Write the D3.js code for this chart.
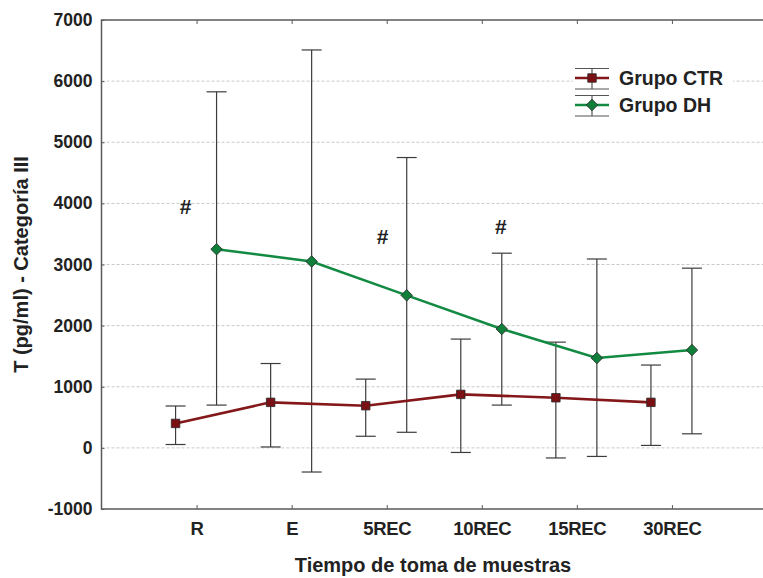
<!DOCTYPE html>
<html>
<head>
<meta charset="utf-8">
<script src="https://cdn.jsdelivr.net/npm/d3@7"></script>
<style>
  body { margin: 0; background: #fff; }
  svg { font-family: "Liberation Sans", Arial, sans-serif; font-weight: bold; }
  .grid line { stroke: #c8c8c8; stroke-dasharray: 3,2; }
  .frame { stroke: #5a5a5a; stroke-width: 1.5; fill: none; }
</style>
</head>
<body>
<div id="visualize"></div>
<script>
// Categories and tick labels
var categories = ["R", "E", "5REC", "10REC", "15REC", "30REC"];
var yTicks = [-1000, 0, 1000, 2000, 3000, 4000, 5000, 6000, 7000];

// Grupo CTR
var ctrMean = [400, 745, 690, 875, 820, 745];
var ctrHigh = [685, 1380, 1125, 1780, 1730, 1355];
var ctrLow = [55, 15, 190, -75, -165, 40];

// Grupo DH
var dhMean = [3250, 3050, 2495, 1945, 1470, 1600];
var dhHigh = [5825, 6510, 4750, 3185, 3090, 2940];
var dhLow = [700, -395, 255, 700, -140, 230];

// "#" marks: category index and value height
var hashCat = [0, 2, 3];
var hashVal = [3940, 3450, 3620];

var width = 763, height = 578;
var plotLeft = 101.5, plotTop = 20, plotBottom = 509;

var x = d3.scaleLinear().domain([0, categories.length + 1]).range([plotLeft, 767]);
var y = d3.scaleLinear().domain([-1000, 7000]).range([plotBottom, plotTop]);

var svg = d3.select("#visualize").append("svg")
    .attr("width", width)
    .attr("height", height);

// gridlines
svg.append("g")
    .attr("class", "grid")
    .selectAll("line")
    .data(yTicks.filter(function(d) { return d > -1000 && d < 7000; }))
  .enter().append("line")
    .attr("x1", plotLeft)
    .attr("x2", width)
    .attr("y1", function(d) { return y(d); })
    .attr("y2", function(d) { return y(d); });

// frame
svg.append("path")
    .attr("class", "frame")
    .attr("d", "M" + width + "," + plotTop + "H" + plotLeft + "V" + plotBottom + "H" + width);

// y axis
var yAxis = d3.axisLeft(y).tickValues(yTicks)
    .tickFormat(function(d) { return String(d); })
    .tickSize(-3).tickPadding(9);
var gy = svg.append("g")
    .attr("transform", "translate(" + plotLeft + ",0)")
    .call(yAxis);
gy.select(".domain").remove();
gy.selectAll(".tick line").attr("stroke", "#5a5a5a");
gy.selectAll("text")
    .attr("font-size", 17.5)
    .attr("font-family", "Liberation Sans, Arial, sans-serif")
    .attr("font-weight", "bold")
    .attr("fill", "#222");

// x axis (bottom + top ticks)
var catIdx = categories.map(function(d, i) { return i + 1; });
var xAxis = d3.axisBottom(x).tickValues(catIdx)
    .tickFormat(function(d) { return categories[d - 1]; })
    .tickSize(-4).tickPadding(13);
var gx = svg.append("g")
    .attr("transform", "translate(0," + plotBottom + ")")
    .call(xAxis);
gx.select(".domain").remove();
gx.selectAll(".tick line").attr("stroke", "#5a5a5a");
gx.selectAll("text")
    .attr("font-size", 18.5)
    .attr("font-family", "Liberation Sans, Arial, sans-serif")
    .attr("font-weight", "bold")
    .attr("letter-spacing", -0.3)
    .attr("fill", "#222");

var gxt = svg.append("g")
    .attr("transform", "translate(0," + plotTop + ")")
    .call(d3.axisTop(x).tickValues(catIdx).tickSize(-4).tickFormat(""));
gxt.select(".domain").remove();
gxt.selectAll(".tick line").attr("stroke", "#5a5a5a");

// axis titles
svg.append("text")
    .attr("x", 433)
    .attr("y", 572)
    .attr("text-anchor", "middle")
    .attr("font-size", 20)
    .attr("fill", "#222")
    .text("Tiempo de toma de muestras");

svg.append("text")
    .attr("transform", "translate(28," + ((plotTop + plotBottom) / 2) + ") rotate(-90)")
    .attr("text-anchor", "middle")
    .attr("font-size", 20)
    .attr("fill", "#222")
    .text("T (pg/ml) - Categoría III");

// series (diamond = square turned 45 degrees)
var series = [
  {name: "Grupo CTR", mean: ctrMean, hi: ctrHigh, lo: ctrLow, dx: -21, color: "#841719", fill: "#7a1013", rot: 0, size: 72},
  {name: "Grupo DH", mean: dhMean, hi: dhHigh, lo: dhLow, dx: 20, color: "#138a42", fill: "#0f7f3a", rot: 45, size: 66}
];

series.forEach(function(s) {
  var pts = s.mean.map(function(m, i) {
    return {cx: x(i + 1) + s.dx, m: m, hi: s.hi[i], lo: s.lo[i]};
  });

  var eb = svg.append("g").attr("stroke", "#3c3c3c").attr("stroke-width", 1.2);
  eb.selectAll(".v").data(pts).enter().append("line")
      .attr("x1", function(d) { return d.cx; })
      .attr("x2", function(d) { return d.cx; })
      .attr("y1", function(d) { return y(d.hi); })
      .attr("y2", function(d) { return y(d.lo); });
  eb.selectAll(".capHi").data(pts).enter().append("line")
      .attr("x1", function(d) { return d.cx - 10; })
      .attr("x2", function(d) { return d.cx + 10; })
      .attr("y1", function(d) { return y(d.hi); })
      .attr("y2", function(d) { return y(d.hi); });
  eb.selectAll(".capLo").data(pts).enter().append("line")
      .attr("x1", function(d) { return d.cx - 10; })
      .attr("x2", function(d) { return d.cx + 10; })
      .attr("y1", function(d) { return y(d.lo); })
      .attr("y2", function(d) { return y(d.lo); });

  s.pts = pts;
});

series.forEach(function(s) {
  svg.append("path")
      .datum(s.pts)
      .attr("fill", "none")
      .attr("stroke", s.color)
      .attr("stroke-width", 2.6)
      .attr("d", d3.line().x(function(d) { return d.cx; }).y(function(d) { return y(d.m); }));

  svg.selectAll(null).data(s.pts).enter().append("path")
      .attr("transform", function(d) { return "translate(" + d.cx + "," + y(d.m) + ") rotate(" + s.rot + ")"; })
      .attr("d", d3.symbol().type(d3.symbolSquare).size(s.size))
      .attr("fill", s.fill)
      .attr("stroke", "#2a2a2a")
      .attr("stroke-width", 0.8);
});

// "#" significance marks
svg.selectAll(".hash")
    .data(hashCat)
  .enter().append("text")
    .attr("x", function(d, i) { return x(d + 1) + [-11, -4, 19][i]; })
    .attr("y", function(d, i) { return y(hashVal[i]); })
    .attr("dy", "0.35em")
    .attr("text-anchor", "middle")
    .attr("font-size", 21)
    .attr("fill", "#222")
    .text("#");

// legend
var legend = svg.append("g");
legend.append("rect")
    .attr("x", 573).attr("y", 64)
    .attr("width", 160).attr("height", 56)
    .attr("fill", "#fff");

var lg = legend.selectAll(".item")
    .data(series)
  .enter().append("g")
    .attr("transform", function(d, i) { return "translate(592," + (78 + i * 27) + ")"; });

lg.append("line").attr("x1", -17).attr("x2", 17).attr("y1", -9.5).attr("y2", -9.5).attr("stroke", "#555").attr("stroke-width", 1.2);
lg.append("line").attr("x1", -17).attr("x2", 17).attr("y1", 11).attr("y2", 11).attr("stroke", "#555").attr("stroke-width", 1.2);
lg.append("line").attr("x1", 0).attr("x2", 0).attr("y1", -9.5).attr("y2", 11).attr("stroke", "#555").attr("stroke-width", 1.2);
lg.append("line").attr("x1", -17).attr("x2", 17).attr("y1", 0).attr("y2", 0)
    .attr("stroke", function(d) { return d.color; }).attr("stroke-width", 2.6);
lg.append("path")
    .attr("transform", function(d) { return "rotate(" + d.rot + ")"; })
    .attr("d", function(d) { return d3.symbol().type(d3.symbolSquare).size(d.size)(); })
    .attr("fill", function(d) { return d.fill; })
    .attr("stroke", "#2a2a2a")
    .attr("stroke-width", 0.8);
lg.append("text")
    .attr("x", 27)
    .attr("dy", "0.36em")
    .attr("font-size", 19.5)
    .attr("fill", "#222")
    .text(function(d) { return d.name; });
</script>
</body>
</html>
